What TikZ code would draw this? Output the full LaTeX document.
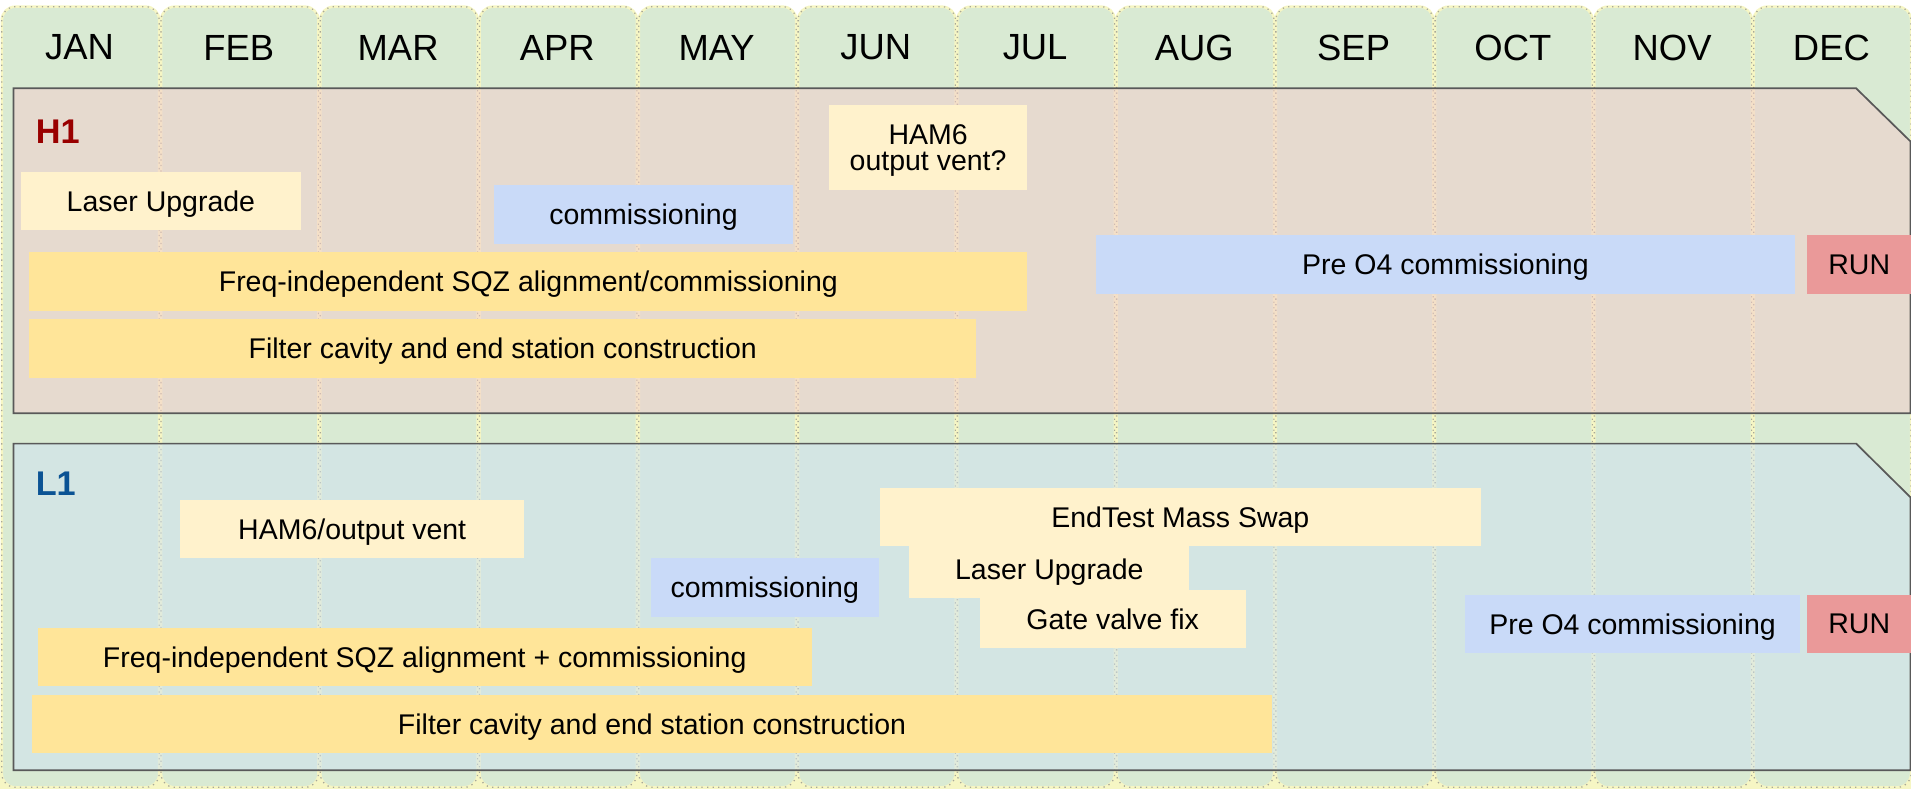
\documentclass[tikz,border=0pt]{standalone}
\usepackage{fontspec}
\setmainfont{Liberation Sans}
\usepackage{xcolor}

\definecolor{monthbg}{HTML}{D9EAD3}
\definecolor{monthline}{HTML}{A8A898}
\definecolor{glow}{HTML}{F6F6C4}
\definecolor{hpanel}{HTML}{F4CCCC}
\definecolor{lpanel}{HTML}{CFE2F3}
\definecolor{panelline}{HTML}{595959}
\definecolor{light}{HTML}{FFF2CC}
\definecolor{sqz}{HTML}{FFE599}
\definecolor{comm}{HTML}{C9DAF8}
\definecolor{run}{HTML}{EA9999}
\definecolor{hlabel}{HTML}{990000}
\definecolor{llabel}{HTML}{0B5394}

\begin{document}
\begin{tikzpicture}[
x=0.02cm, y=-0.02cm,
every node/.style={inner sep=0pt},
month/.style={fill=monthbg, draw=glow, line width=1.2pt, rounded corners=0.22cm},
monthedge/.style={draw=monthline, dotted, line width=0.6pt, rounded corners=0.22cm},
panel/.style={draw=panelline, line width=0.8pt, fill opacity=0.5},
tag/.style={anchor=west, font=\bfseries\fontsize{16}{19}\selectfont},
task/.style={minimum height=0.96cm, text depth=0pt, align=center, font=\fontsize{13.3}{12.3}\selectfont},
]
\useasboundingbox (0,0) rectangle (1568,647.4);
\fill[glow] (0,610) rectangle (1568,647.4);

%% months
\foreach \m [count=\i from 0] in {JAN,FEB,MAR,APR,MAY,JUN,JUL,AUG,SEP,OCT,NOV,DEC} {
  \draw[month] ({\i*130.67+1.5},5.5) rectangle ({\i*130.67+130.67},646);
  \draw[monthedge] ({\i*130.67+1.5},5.5) rectangle ({\i*130.67+130.67},646);
  \node[font=\fontsize{17}{20}\selectfont] (\m) at ({\i*130.67+65.3},39) {\m};
}

%% H1
% panel
\draw[panel, fill=hpanel] (11,72.5) -- (1523,72.5) -- (1567.5,116) -- (1567.5,339) -- (11,339) -- cycle;
\node[tag, text=hlabel] (H1) at (29,108) {H1};
% tasks
\node[task, fill=light, minimum width=4.60cm] (laserH) at (132,165) {Laser Upgrade};
\node[task, fill=comm, minimum width=4.92cm] (commH) at (528,176) {commissioning};
\node[task, fill=sqz, minimum width=16.38cm] (sqzH) at (433.5,231) {Freq-independent SQZ alignment/commissioning};
\node[task, fill=sqz, minimum width=15.54cm] (filterH) at (412.5,286) {Filter cavity and end station construction};
\node[task, fill=light, minimum width=3.26cm, minimum height=1.40cm] (hamH) at (761.5,121) {HAM6\\output vent?};
\node[task, fill=comm, minimum width=11.48cm] (preH) at (1186,217) {Pre O4 commissioning};
\node[task, fill=run, minimum width=1.70cm] (runH) at (1525.5,217) {RUN};

%% L1
% panel
\draw[panel, fill=lpanel] (11,364) -- (1523,364) -- (1567.5,408) -- (1567.5,632) -- (11,632) -- cycle;
\node[tag, text=llabel] (L1) at (29,397) {L1};
% tasks
\node[task, fill=light, minimum width=5.64cm] (hamL) at (289,434) {HAM6/output vent};
\node[task, fill=comm, minimum width=3.74cm] (commL) at (627.5,482) {commissioning};
\node[task, fill=sqz, minimum width=12.70cm] (sqzL) at (348.5,539) {Freq-independent SQZ alignment + commissioning};
\node[task, fill=sqz, minimum width=20.36cm] (filterL) at (535,594) {Filter cavity and end station construction};
\node[task, fill=light, minimum width=4.60cm] (laserL) at (861,467) {Laser Upgrade};
\node[task, fill=light, minimum width=9.86cm] (endL) at (968.5,424) {EndTest Mass Swap};
\node[task, fill=light, minimum width=4.36cm] (gateL) at (913,508) {Gate valve fix};
\node[task, fill=comm, minimum width=5.50cm] (preL) at (1339.5,512) {Pre O4 commissioning};
\node[task, fill=run, minimum width=1.70cm] (runL) at (1525.5,512) {RUN};
\end{tikzpicture}
\end{document}
